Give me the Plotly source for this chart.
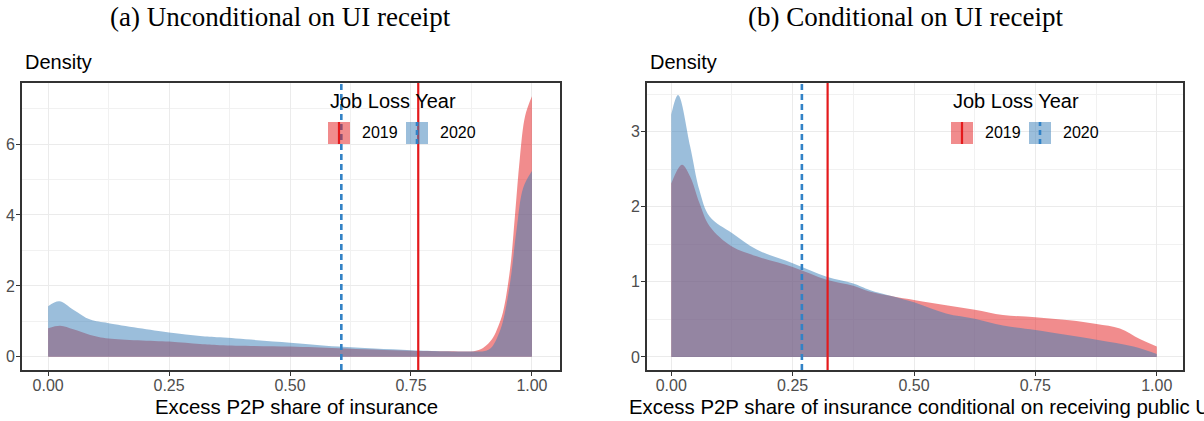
import plotly.graph_objects as go

# ---------------- data ----------------
# Panel (a): unconditional on UI receipt
a_x_2019 = [0.0, 0.025, 0.052, 0.087, 0.125, 0.25, 0.314, 0.355, 0.5, 0.6, 0.75, 0.85, 0.88,
            0.895, 0.91, 0.92, 0.93, 0.94, 0.955, 0.965, 0.975, 0.986, 1.0]
a_y_2019 = [0.81, 0.88, 0.78, 0.62, 0.52, 0.43, 0.36, 0.33, 0.29, 0.24, 0.17, 0.155, 0.16,
            0.22, 0.38, 0.55, 0.85, 1.25, 2.5, 4.0, 5.6, 6.8, 7.35]
a_x_2020 = [0.0, 0.023, 0.052, 0.087, 0.125, 0.25, 0.314, 0.355, 0.5, 0.6, 0.75, 0.877, 0.9,
            0.91, 0.92, 0.93, 0.94, 0.955, 0.968, 0.982, 1.0]
a_y_2020 = [1.43, 1.57, 1.33, 1.05, 0.95, 0.69, 0.59, 0.55, 0.40, 0.29, 0.19, 0.15, 0.16,
            0.2, 0.33, 0.6, 1.0, 2.1, 3.56, 4.77, 5.24]
a_mean_2019 = 0.765
a_mean_2020 = 0.606

# Panel (b): conditional on UI receipt
b_x_2019 = [0.0, 0.022, 0.039, 0.058, 0.079, 0.125, 0.176, 0.25, 0.32, 0.375, 0.41, 0.5, 0.566,
            0.625, 0.683, 0.75, 0.82, 0.876, 0.924, 0.965, 1.0]
b_y_2019 = [2.31, 2.56, 2.40, 2.05, 1.74, 1.47, 1.34, 1.20, 1.03, 0.95, 0.87, 0.76, 0.69,
            0.63, 0.56, 0.53, 0.49, 0.44, 0.38, 0.24, 0.14]
b_x_2020 = [0.0, 0.014, 0.039, 0.058, 0.079, 0.125, 0.176, 0.25, 0.32, 0.375, 0.41, 0.5, 0.566,
            0.625, 0.683, 0.75, 0.876, 0.952, 1.0]
b_y_2020 = [3.23, 3.49, 2.80, 2.22, 1.87, 1.65, 1.43, 1.25, 1.07, 0.98, 0.89, 0.73, 0.58,
            0.51, 0.42, 0.36, 0.23, 0.14, 0.04]
b_mean_2019 = 0.322
b_mean_2020 = 0.269

years = ["2019", "2020"]
x_ticks = [0.0, 0.25, 0.5, 0.75, 1.0]
x_ticklabels = ["0.00", "0.25", "0.50", "0.75", "1.00"]
a_y_ticks = [0, 2, 4, 6]
b_y_ticks = [0, 1, 2, 3]

panel_titles = ["(a) Unconditional on UI receipt", "(b) Conditional on UI receipt"]
x_titles = ["Excess P2P share of insurance",
            "Excess P2P share of insurance conditional on receiving public UI"]
y_title = "Density"
legend_title = "Job Loss Year"

# ---------------- style ----------------
W, H = 1204, 421
FILL = {"2019": "rgba(228,26,28,0.5)", "2020": "rgba(55,126,184,0.5)"}
LINE = {"2019": "#E41A1C", "2020": "#3282C6"}
DASH = {"2019": "solid", "2020": "6px,4px"}
SANS = "Liberation Sans, Arial, sans-serif"
SERIF = "Liberation Serif, Times New Roman, serif"


def px(xp):
    return xp / W


def py(yp):
    return 1 - yp / H


fig = go.Figure()

panels = [
    ("x", "y", a_x_2019, a_y_2019, a_x_2020, a_y_2020, a_mean_2019, a_mean_2020),
    ("x2", "y2", b_x_2019, b_y_2019, b_x_2020, b_y_2020, b_mean_2019, b_mean_2020),
]

for xa, ya, x19, y19, x20, y20, m19, m20 in panels:
    for yr, xs, ys in (("2019", x19, y19), ("2020", x20, y20)):
        fig.add_trace(go.Scatter(
            x=xs, y=ys, xaxis=xa, yaxis=ya, mode="lines",
            line=dict(width=0, shape="spline", smoothing=1.0),
            fill="tozeroy", fillcolor=FILL[yr], showlegend=False, hoverinfo="skip"))
    for yr, m in (("2020", m20), ("2019", m19)):
        fig.add_shape(type="line", xref=xa, yref=f"{ya} domain", x0=m, x1=m, y0=0, y1=1,
                      line=dict(color=LINE[yr], width=2.2 if yr == "2019" else 2.6, dash=DASH[yr]))

grid_major = "#EBEBEB"
common_axis = dict(showgrid=True, gridcolor=grid_major, gridwidth=1.3, zeroline=False,
                   showline=True, mirror=True, linecolor="#333333", linewidth=1.6,
                   ticks="outside", ticklen=4, tickwidth=1.1, tickcolor="#333333",
                   tickfont=dict(family=SANS, size=16, color="#4D4D4D"))

ydom = [py(370), py(83)]
fig.update_layout(
    width=W, height=H, autosize=False,
    margin=dict(l=0, r=0, t=0, b=0),
    paper_bgcolor="white", plot_bgcolor="white",
    xaxis=dict(domain=[px(22), px(560)], range=[-0.054, 1.058], tickvals=x_ticks,
               ticktext=x_ticklabels, anchor="y", ticklabelstandoff=-4,
               minor=dict(tick0=0.125, dtick=0.25, showgrid=True, gridcolor="#F1F1F1",
                          gridwidth=0.8, ticks=""),
               **common_axis),
    yaxis=dict(domain=ydom, range=[-0.37, 7.72], tickvals=a_y_ticks, anchor="x",
               ticklabelstandoff=-2,
               minor=dict(tick0=1, dtick=2, showgrid=True, gridcolor="#F1F1F1",
                          gridwidth=0.8, ticks=""),
               **common_axis),
    xaxis2=dict(domain=[px(647), px(1183)], range=[-0.05, 1.054], tickvals=x_ticks,
                ticktext=x_ticklabels, anchor="y2", ticklabelstandoff=-4,
                minor=dict(tick0=0.125, dtick=0.25, showgrid=True, gridcolor="#F1F1F1",
                           gridwidth=0.8, ticks=""),
                **common_axis),
    yaxis2=dict(domain=ydom, range=[-0.174, 3.65], tickvals=b_y_ticks, anchor="x2",
                ticklabelstandoff=-2,
                minor=dict(tick0=0.5, dtick=1, showgrid=True, gridcolor="#F1F1F1",
                           gridwidth=0.8, ticks=""),
                **common_axis),
)

annotations = []
# panel titles
for title, cx in zip(panel_titles, [280, 905]):
    annotations.append(dict(text=title, x=px(cx), y=py(17), xref="paper", yref="paper",
                            showarrow=False, xanchor="center", yanchor="middle",
                            font=dict(family=SERIF, size=27, color="black")))
# y titles "Density"
for lx in [23, 648]:
    annotations.append(dict(text=y_title, x=px(lx), y=py(62), xref="paper", yref="paper",
                            showarrow=False, xanchor="left", yanchor="middle",
                            font=dict(family=SANS, size=20, color="black")))
# x titles (the right one runs past the page edge, as in the original)
for t, lx in zip(x_titles, [153, 627]):
    annotations.append(dict(text=t, x=px(lx), y=py(407), xref="paper", yref="paper",
                            showarrow=False, xanchor="left", yanchor="middle",
                            font=dict(family=SANS, size=20.4, color="black")))

# manual legends (ggplot style)
shapes = []
for lx in [328, 951]:
    annotations.append(dict(text=legend_title, x=px(lx), y=py(101), xref="paper", yref="paper",
                            showarrow=False, xanchor="left", yanchor="middle",
                            font=dict(family=SANS, size=20, color="black")))
    kx = lx
    for yr in years:
        shapes.append(dict(type="rect", xref="paper", yref="paper",
                           x0=px(kx), x1=px(kx + 22), y0=py(144), y1=py(122),
                           fillcolor=FILL[yr], line=dict(width=0), layer="above"))
        cxk = kx + 11
        shapes.append(dict(type="line", xref="paper", yref="paper",
                           x0=px(cxk), x1=px(cxk), y0=py(144), y1=py(122),
                           line=dict(color=LINE[yr], width=2.2 if yr == "2019" else 2.6,
                                     dash="solid" if yr == "2019" else "5px,4px"),
                           layer="above"))
        annotations.append(dict(text=yr, x=px(kx + 32), y=py(133), xref="paper", yref="paper",
                                showarrow=False, xanchor="left", yanchor="middle",
                                font=dict(family=SANS, size=16, color="black")))
        kx += 78

fig.update_layout(annotations=annotations)
for s in shapes:
    fig.add_shape(**s)

fig.write_html("out.html", config={"displayModeBar": False},
               post_script="document.body.style.margin='0px';document.body.style.overflow='hidden';")
